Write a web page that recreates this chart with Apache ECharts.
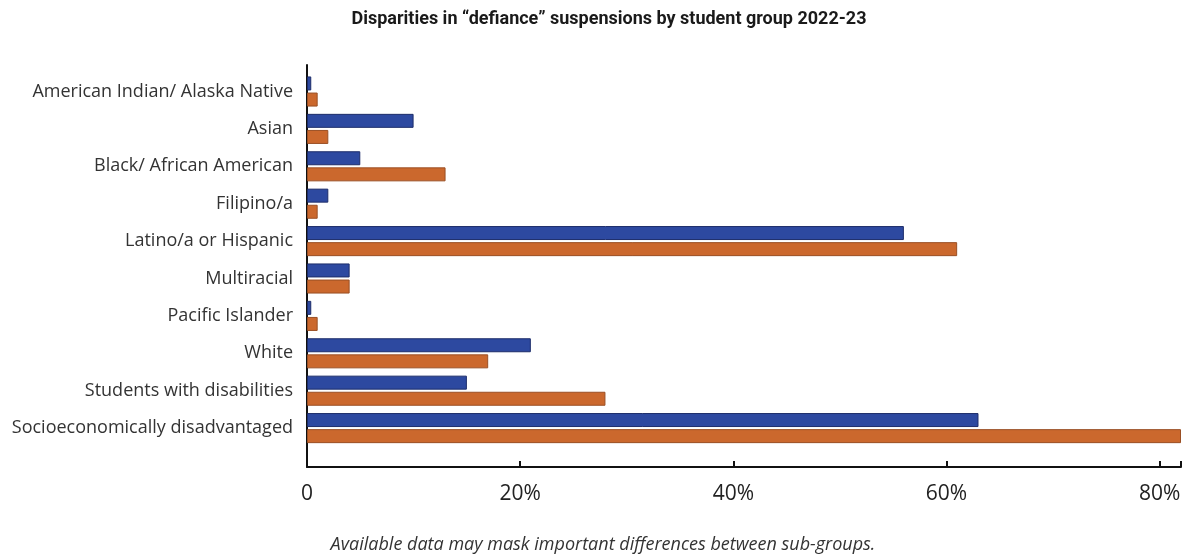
<!DOCTYPE html>
<html>
<head>
<meta charset="utf-8">
<script src="https://cdn.jsdelivr.net/npm/echarts@6/dist/echarts.min.js"></script>
<style>
html,body{margin:0;padding:0;background:#fff;}
#c{width:1187px;height:554px;}
</style>
</head>
<body>
<div id="c"></div>
<script>
const categories = [
  "American Indian/ Alaska Native",
  "Asian",
  "Black/ African American",
  "Filipino/a",
  "Latino/a or Hispanic",
  "Multiracial",
  "Pacific Islander",
  "White",
  "Students with disabilities",
  "Socioeconomically disadvantaged"
];
const seriesBlue = [0.4, 10, 5, 2, 56, 4, 0.4, 21, 15, 63];
const seriesOrange = [1, 2, 13, 1, 61, 4, 1, 17, 28, 82];
const xTicks = [0, 20, 40, 60, 80];
const titleText = "Disparities in \u201cdefiance\u201d suspensions by student group 2022-23";
const noteText = "Available data may mask important differences between sub-groups.";

const chart = echarts.init(document.getElementById('c'));
const GL = 307, GW = 874;
chart.setOption({
  animation: false,
  backgroundColor: '#ffffff',
  title: [
    { text: titleText, left: 604, top: 5, textAlign: 'center',
      textStyle: { fontFamily: 'Roboto', fontWeight: 'bold', fontSize: 18, color: '#1a1a1a' } },
    { text: noteText, left: 598, top: 531, textAlign: 'center',
      textStyle: { fontFamily: 'Open Sans', fontStyle: 'italic', fontWeight: 'normal', fontSize: 18, color: '#333' } }
  ],
  grid: [
    { left: GL, width: GW, top: 72.8, height: 374 },
    { left: GL, width: GW, top: 65, height: 402 }
  ],
  xAxis: [
    { gridIndex: 0, type: 'value', min: 0, max: 82, show: false, splitLine: { show: false } },
    { gridIndex: 1, type: 'value', min: 0, max: 82, interval: 20,
      axisLine: { show: true, lineStyle: { color: '#111', width: 2 } },
      axisTick: { show: true, inside: true, length: 6, lineStyle: { color: '#111', width: 2 } },
      splitLine: { show: false },
      axisLabel: { margin: 17, fontFamily: 'Open Sans', fontSize: 21, color: '#222',
        formatter: v => xTicks.indexOf(v) >= 0 ? (v === 0 ? '0' : v + '%') : '' } }
  ],
  yAxis: [
    { gridIndex: 0, type: 'category', data: categories, inverse: true,
      axisLine: { show: false }, axisTick: { show: false },
      axisLabel: { margin: 14, fontFamily: 'Open Sans', fontSize: 18, color: '#333', padding: [0, 0, 18, 0] } },
    { gridIndex: 1, type: 'value', min: 0, max: 1,
      axisLine: { show: true, lineStyle: { color: '#111', width: 2 } },
      axisTick: { show: false }, axisLabel: { show: false }, splitLine: { show: false } }
  ],
  series: [
    { type: 'bar', xAxisIndex: 0, yAxisIndex: 0, data: seriesBlue, barWidth: 14, barGap: '15%',
      itemStyle: { color: '#2d49a0', borderColor: '#1d2d6a', borderWidth: 1 } },
    { type: 'bar', xAxisIndex: 0, yAxisIndex: 0, data: seriesOrange, barWidth: 14, barGap: '15%',
      itemStyle: { color: '#cb682d', borderColor: '#9a4f24', borderWidth: 1 } }
  ]
});
</script>
</body>
</html>
